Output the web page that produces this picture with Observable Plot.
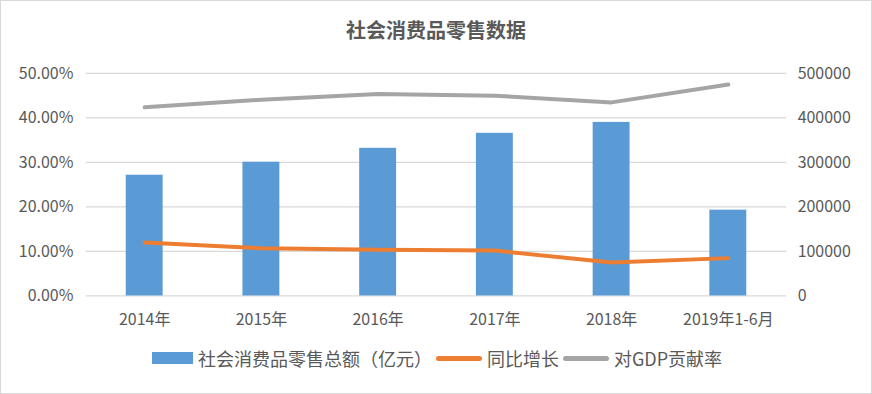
<!DOCTYPE html>
<html><head><meta charset="utf-8">
<script src="https://cdn.jsdelivr.net/npm/d3@7"></script>
<script src="https://cdn.jsdelivr.net/npm/@observablehq/plot@0.6"></script>
<style>
body{margin:0;background:#fff;}
#wrap{width:872px;height:394px;box-sizing:border-box;border:1px solid #d9d9d9;position:relative;font-family:"Noto Sans CJK SC","Noto Sans",sans-serif;color:#595959;overflow:hidden;}
#title{height:55px;line-height:58px;text-align:center;font-size:20px;font-weight:bold;color:#595959;}
#legend{position:absolute;top:345px;left:0;width:872px;height:24px;display:flex;justify-content:center;align-items:center;font-size:18px;color:#595959;}
.it{display:flex;align-items:center;margin:0 2px;}
.sw{display:inline-block;margin-right:5px;}
</style></head>
<body><div id="wrap"><div id="title">社会消费品零售数据</div><div id="chart"></div><div id="legend"></div></div>
<script>
const categories = ["2014年","2015年","2016年","2017年","2018年","2019年1-6月"];
const totalSales = [271300, 300500, 331800, 365500, 390000, 192800];
const yoyGrowth = [0.120, 0.107, 0.104, 0.102, 0.075, 0.085];
const gdpContribution = [0.424, 0.441, 0.454, 0.450, 0.435, 0.475];
const leftTicks = [0, 0.1, 0.2, 0.3, 0.4, 0.5];
const seriesNames = ["社会消费品零售总额（亿元）","同比增长","对GDP贡献率"];
const colors = ["#5B9BD5","#ED7D31","#A5A5A5"];

const rows = categories.map((c,i)=>({cat:c,total:totalSales[i],yoy:yoyGrowth[i],gdp:gdpContribution[i]}));
const ratio = 1e6; // right axis 0..500000 maps to left 0..0.5

const chart = Plot.plot({
  width: 872, height: 285,
  marginTop: 17, marginBottom: 45, marginLeft: 85, marginRight: 85,
  style: {fontFamily: '"Noto Sans CJK SC","Noto Sans",sans-serif', fontSize: "16px", color: "#595959", background: "transparent"},
  x: {domain: categories, paddingInner: 0.684, paddingOuter: 0.342, label: null},
  y: {domain: [0, 0.5], label: null},
  marks: [
    Plot.ruleY(leftTicks, {stroke: "#d9d9d9", strokeWidth: 1.3}),
    Plot.axisY(leftTicks, {anchor: "left", tickSize: 0, tickPadding: 13, tickFormat: d => (d*100).toFixed(2) + "%", label: null, fontSize: 16}),
    Plot.axisY(leftTicks, {anchor: "right", tickSize: 0, tickPadding: 11, textAnchor: "start", tickFormat: d => d3.format("d")(Math.round(d*ratio)), label: null, fontSize: 16}),
    Plot.axisX({tickSize: 0, tickPadding: 18, label: null, fontSize: 16}),
    Plot.barY(rows, {x: "cat", y: d => d.total / ratio, fill: colors[0]}),
    Plot.line(rows, {x: "cat", y: "gdp", stroke: colors[2], strokeWidth: 4, strokeLinecap: "round"}),
    Plot.line(rows, {x: "cat", y: "yoy", stroke: colors[1], strokeWidth: 4, strokeLinecap: "round"})
  ]
});
document.getElementById("chart").appendChild(chart);

const lg = document.getElementById("legend");
seriesNames.forEach((n,i)=>{
  const it = document.createElement("div"); it.className="it";
  const sw = document.createElement("span"); sw.className="sw";
  if(i===0){sw.style.width="41px";sw.style.height="12px";sw.style.background=colors[0];}
  else{sw.style.width="46px";sw.style.height="5px";sw.style.borderRadius="2.5px";sw.style.background=colors[i];}
  const t = document.createElement("span"); t.textContent=n;
  it.appendChild(sw); it.appendChild(t); lg.appendChild(it);
});
</script></body></html>
